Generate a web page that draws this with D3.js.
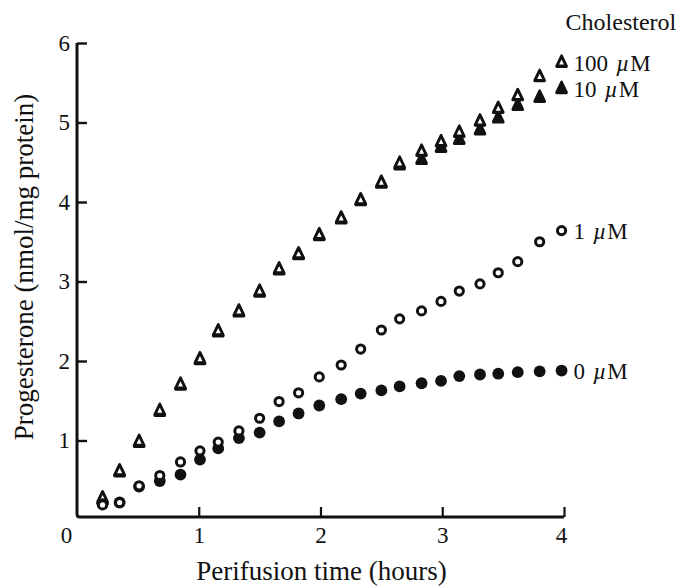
<!DOCTYPE html>
<html lang="en">
<head>
  <meta charset="UTF-8">
  <title>Progesterone perifusion</title>
  <script src="https://d3js.org/d3.v7.min.js" charset="utf-8"></script>
  <style>
    body { margin: 0; background: #fff; }
    text { font-family: "Liberation Serif", "Times New Roman", serif; fill: #111; }
  </style>
</head>
<body>
<div class="div1"></div>
<script>
  // perifusion time (hours) of each sample
  var times = [0.21,0.35,0.51,0.68,0.85,1.01,1.16,1.33,1.50,1.66,1.82,1.99,2.17,2.33,2.50,2.65,2.83,2.99,3.14,3.31,3.46,3.62,3.80,3.98]
  // progesterone, nmol/mg protein
  var chol100 = [0.27,0.61,0.98,1.37,1.70,2.02,2.37,2.62,2.87,3.15,3.34,3.58,3.79,4.02,4.24,4.48,4.63,4.75,4.87,5.01,5.17,5.33,5.57,5.75]
  var chol10 = [0.25,0.60,0.97,1.36,1.69,2.01,2.36,2.61,2.86,3.14,3.33,3.57,3.78,4.01,4.23,4.46,4.53,4.68,4.78,4.90,5.05,5.21,5.31,5.42]
  var chol1 = [0.19,0.22,0.43,0.56,0.73,0.87,0.98,1.12,1.28,1.49,1.60,1.80,1.95,2.15,2.39,2.53,2.63,2.75,2.88,2.97,3.11,3.25,3.50,3.64]
  var chol0 = [0.20,0.22,0.42,0.49,0.57,0.76,0.90,1.03,1.10,1.24,1.34,1.44,1.52,1.59,1.63,1.68,1.72,1.75,1.81,1.83,1.84,1.86,1.87,1.88]
  var seriesNames = ['100', '10', '1', '0']
  var xTicks = [0, 1, 2, 3, 4]
  var yTicks = [1, 2, 3, 4, 5, 6]

  var width = 677
  var height = 588
  var base_y = 517   // where the time axis sits

  var svg = d3.select('.div1')
    .append('svg')
    .attr('width', width)
    .attr('height', height)

  var xScale = d3.scaleLinear().domain([0, 4]).range([77, 564])
  var yScale = d3.scaleLinear().domain([0, 6]).range([520, 43])

  // y axis ticks + labels
  var yAxis = d3.axisLeft(yScale)
    .tickValues(yTicks)
    .tickSize(-10)
    .tickSizeOuter(0)
    .tickPadding(7)
    .tickFormat(d3.format('d'))
  var gy = svg.append('g')
    .attr('transform', 'translate(' + xScale(0) + ',0)')
    .call(yAxis)
  gy.select('.domain').remove()
  gy.selectAll('line').attr('stroke', '#111').attr('stroke-width', 2.4)
  gy.selectAll('text').attr('font-size', 23).attr('fill', '#111')

  // x axis ticks + labels
  var xAxis = d3.axisBottom(xScale)
    .tickValues(xTicks)
    .tickSize(-10)
    .tickSizeOuter(0)
    .tickPadding(10)
    .tickFormat(d3.format('d'))
  var gx = svg.append('g')
    .attr('transform', 'translate(0,' + base_y + ')')
    .call(xAxis)
  gx.select('.domain').remove()
  gx.selectAll('line').attr('stroke', '#111').attr('stroke-width', 2.2)
    .attr('display', (d) => d === 0 ? 'none' : null)
  gx.selectAll('text').attr('font-size', 23).attr('fill', '#111')
    .attr('dx', (d) => d === 0 ? -11 : (d === 4 ? -3 : 0))

  // axis frame (left + bottom, slightly rounded corner)
  var x0 = xScale(0)
  svg.append('path')
    .attr('d', 'M' + x0 + ',' + yScale(6) + 'V' + (base_y - 3) + 'Q' + x0 + ',' + base_y + ' ' + (x0 + 3) + ',' + base_y + 'H' + xScale(4))
    .attr('fill', 'none')
    .attr('stroke', '#111')
    .attr('stroke-width', 3)

  // axis titles
  svg.append('text')
    .attr('x', (xScale(0) + xScale(4)) / 2 + 1)
    .attr('y', 580)
    .attr('text-anchor', 'middle')
    .attr('font-size', 27)
    .text('Perifusion time (hours)')

  svg.append('text')
    .attr('transform', 'translate(33,' + 267 + ') rotate(-90)')
    .attr('text-anchor', 'middle')
    .attr('font-size', 27)
    .text('Progesterone (nmol/mg protein)')

  // markers
  var tri = d3.symbol().type(d3.symbolTriangle).size(42)

  function drawTriangles(values, open) {
    svg.append('g')
      .selectAll('path')
      .data(values)
      .enter()
      .append('path')
      .attr('d', tri)
      .attr('transform', (d, i) => 'translate(' + xScale(times[i]) + ',' + yScale(d) + ') scale(1,1.2)')
      .attr('fill', open ? '#fff' : '#111')
      .attr('stroke', '#111')
      .attr('stroke-width', 2.8)
      .attr('stroke-linejoin', 'round')
  }

  function drawCircles(values, open) {
    svg.append('g')
      .selectAll('circle')
      .data(values)
      .enter()
      .append('circle')
      .attr('cx', (d, i) => xScale(times[i]))
      .attr('cy', (d) => yScale(d))
      .attr('r', open ? 4.1 : 5.9)
      .attr('fill', open ? '#fff' : '#111')
      .attr('stroke', open ? '#111' : 'none')
      .attr('stroke-width', 3)
  }

  drawTriangles(chol10, false)
  drawTriangles(chol100, true)
  drawCircles(chol0, false)
  drawCircles(chol1, true)

  // series labels next to the last points
  var lastVals = [chol100, chol10, chol1, chol0].map((s) => s[s.length - 1])
  var xLast = xScale(times[times.length - 1])

  svg.append('text')
    .attr('x', xLast + 4)
    .attr('y', 30)
    .attr('font-size', 24)
    .text('Cholesterol')

  var labels = svg.append('g')
    .selectAll('text')
    .data(seriesNames)
    .enter()
    .append('text')
    .attr('x', xLast + 12)
    .attr('y', (d, i) => yScale(lastVals[i]))
    .attr('dy', '0.35em')
    .attr('font-size', 23)
  labels.append('tspan').text((d) => d)
  labels.append('tspan').attr('dx', 8).attr('font-style', 'italic').text('\u00b5')
  labels.append('tspan').attr('dx', 1).text('M')
</script>
</body>
</html>
